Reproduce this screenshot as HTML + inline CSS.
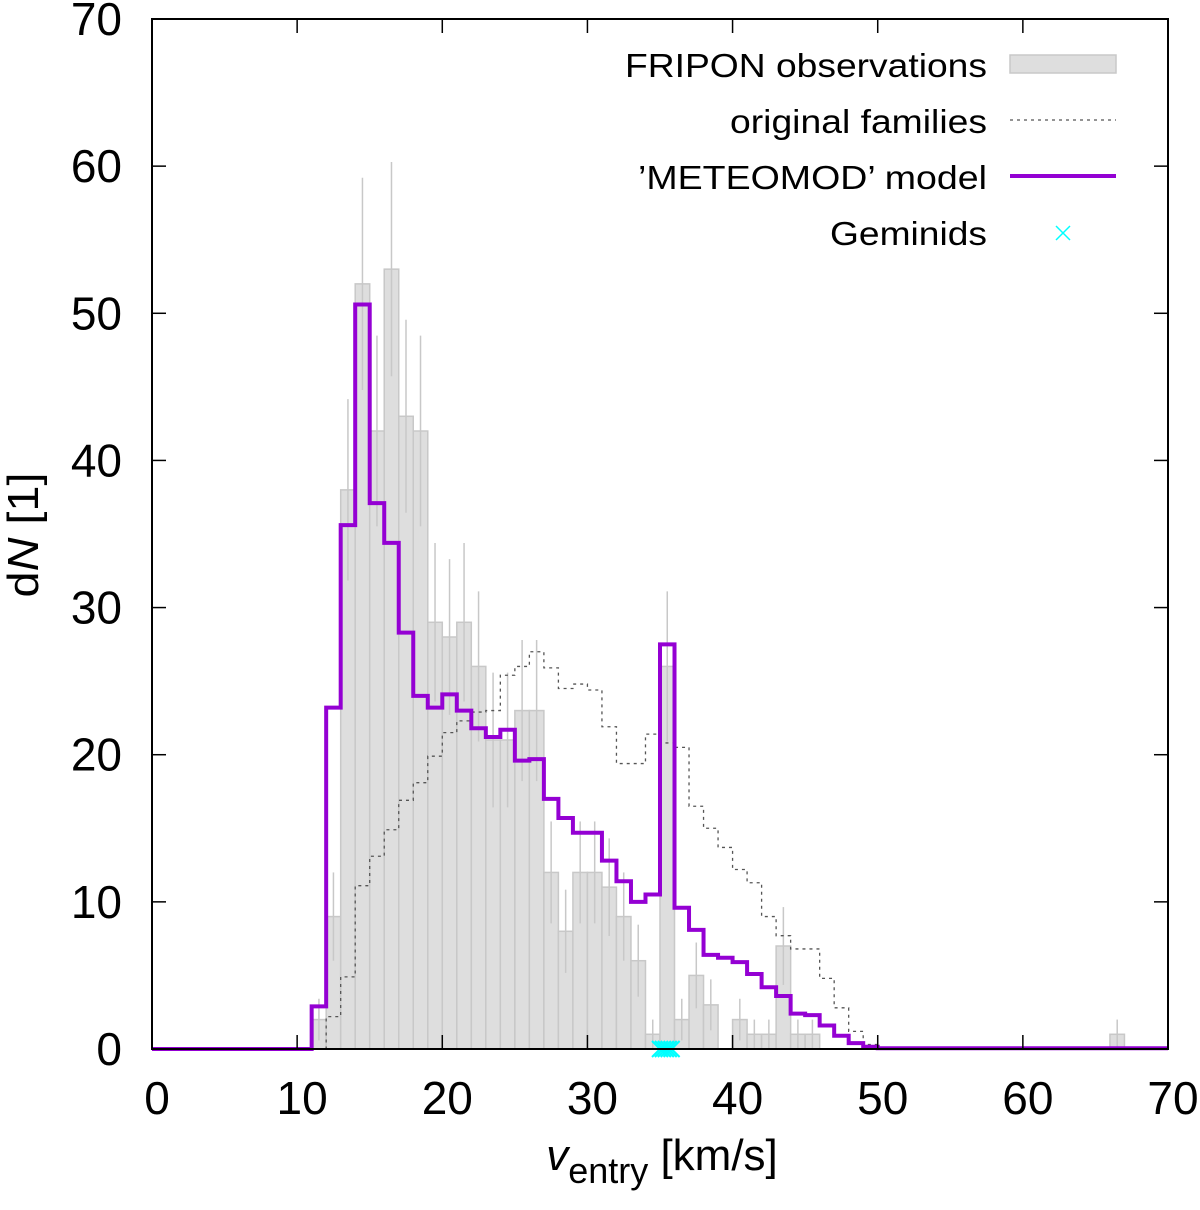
<!DOCTYPE html>
<html><head><meta charset="utf-8"><style>
html,body{margin:0;padding:0;background:#fff;}
svg text{font-family:"Liberation Sans",sans-serif;fill:#000;}
</style></head><body>
<svg id="chart" width="1200" height="1205" viewBox="0 0 1200 1205" xmlns="http://www.w3.org/2000/svg">
<g id="bars"></g>
<g id="errs"></g>
<path id="orig" fill="none" stroke="#555" stroke-width="1.3" stroke-dasharray="3,4"/>
<path id="model" fill="none" stroke="#9400d3" stroke-width="4"/>
<g id="gem"></g>
<rect x="152" y="19" width="1016" height="1030" fill="none" stroke="#000" stroke-width="2"/>
<g id="ticks"></g>
<text transform="translate(38,535) rotate(-90)" text-anchor="middle" font-size="44" textLength="125" lengthAdjust="spacingAndGlyphs">d<tspan font-style="italic">N</tspan> [1]</text>
<text x="662" y="1170" text-anchor="middle" font-size="44"><tspan font-style="italic">v</tspan><tspan font-size="36" dy="13">entry</tspan><tspan dy="-13"> [km/s]</tspan></text>
<g>
<text x="987" y="77" text-anchor="end" font-size="33" textLength="362" lengthAdjust="spacingAndGlyphs">FRIPON observations</text>
<rect x="1010" y="55" width="106" height="18" fill="#dedede" stroke="#c8c8c8" stroke-width="1.5"/>
<text x="987" y="133" text-anchor="end" font-size="33" textLength="257" lengthAdjust="spacingAndGlyphs">original families</text>
<line x1="1010" y1="120" x2="1116" y2="120" stroke="#555" stroke-width="1.3" stroke-dasharray="3,4"/>
<text x="987" y="189" text-anchor="end" font-size="33" textLength="349" lengthAdjust="spacingAndGlyphs">’METEOMOD’ model</text>
<line x1="1010" y1="176" x2="1116" y2="176" stroke="#9400d3" stroke-width="4"/>
<text x="987" y="245" text-anchor="end" font-size="33" textLength="157" lengthAdjust="spacingAndGlyphs">Geminids</text>
<path d="M1056,226 L1070,240 M1056,240 L1070,226" stroke="#00ffff" stroke-width="1.5"/>
</g>
</svg>
<script>
const binStarts = [11,12,13,14,15,16,17,18,19,20,21,22,23,24,25,26,27,28,29,30,31,32,33,34,35,36,37,38,39,40,41,42,43,44,45,66];
const obsCounts = [2,9,38,52,42,53,43,42,29,28,29,26,21,21,23,23,12,8,12,12,11,9,6,1,26,2,5,3,0,2,1,1,7,1,1,1];
const modelStarts = [0,11,12,13,14,15,16,17,18,19,20,21,22,23,24,25,26,27,28,29,30,31,32,33,34,35,36,37,38,39,40,41,42,43,44,45,46,47,48,49,50];
const modelValues = [0,2.9,23.2,35.6,50.6,37.1,34.4,28.3,24.0,23.2,24.1,23.0,21.8,21.2,21.7,19.6,19.7,17.0,15.7,14.7,14.7,12.8,11.4,10.0,10.5,27.5,9.6,8.1,6.4,6.2,5.9,5.1,4.2,3.6,2.4,2.3,1.6,0.9,0.4,0.15,0.05];
const origStarts = [11,12,13,14,15,16,17,18,19,20,21,22,23,24,25,26,27,28,29,30,31,32,33,34,35,36,37,38,39,40,41,42,43,44,45,46,47,48,49,50];
const origValues = [0,2.2,4.9,11.1,13.1,14.9,16.9,18.1,19.9,21.5,22.3,22.9,23.0,25.4,26.0,27.0,25.9,24.5,24.8,24.4,21.9,19.4,19.4,21.4,20.8,20.5,16.5,15.0,13.7,12.2,11.3,9.0,7.7,6.8,6.8,4.8,2.8,1.2,0.3,0];
const geminids = [35.0,35.2,35.4,35.6,35.8];
const xTicks = [0,10,20,30,40,50,60,70];
const yTicks = [0,10,20,30,40,50,60,70];

const NS = "http://www.w3.org/2000/svg";
const X = v => 152 + v * (1016 / 70);
const Y = v => 1049 - v * (1030 / 70);
function mk(tag, attrs, parent){const e=document.createElementNS(NS,tag);for(const k in attrs)e.setAttribute(k,attrs[k]);parent.appendChild(e);return e;}

const bars = document.getElementById('bars'), errs = document.getElementById('errs');
binStarts.forEach((b,i)=>{
  const v = obsCounts[i];
  if (v <= 0) return;
  const r = mk('rect',{x:X(b),y:Y(v),width:X(b+1)-X(b),height:Y(0)-Y(v),fill:'#dedede',stroke:'#c8c8c8','stroke-width':1.5},bars);
  
  
  const e = Math.sqrt(v), cx = X(b+0.5);
  const l = mk('line',{x1:cx,x2:cx,y1:Y(v+e),y2:Y(Math.max(0,v-e)),stroke:'#c8c8c8','stroke-width':1.5},errs);
  
  
});

function stepPath(starts, vals, end){
  let d = '';
  starts.forEach((s,i)=>{
    const x0 = X(s), x1 = X(i+1<starts.length ? starts[i+1] : end), y = Y(vals[i]);
    d += (i===0 ? 'M' : 'L') + x0 + ',' + y + ' L' + x1 + ',' + y + ' ';
  });
  return d;
}
document.getElementById('model').setAttribute('d', stepPath(modelStarts, modelValues, 70));
document.getElementById('orig').setAttribute('d', stepPath(origStarts, origValues, 51));

const gem = document.getElementById('gem');
geminids.forEach(g=>{
  const x = X(g), y = Y(0);
  const p = mk('path',{d:`M${x-8},${y-8} L${x+8},${y+8} M${x-8},${y+8} L${x+8},${y-8}`,stroke:'#00ffff','stroke-width':2},gem);
  
  
});

const ticks = document.getElementById('ticks');
xTicks.forEach(t=>{
  const x = X(t);
  mk('line',{x1:x,x2:x,y1:1049,y2:1035,stroke:'#000','stroke-width':1.5},ticks);
  mk('line',{x1:x,x2:x,y1:19,y2:33,stroke:'#000','stroke-width':1.5},ticks);
  const tx = mk('text',{x:x+5,y:1114,'text-anchor':'middle','font-size':46},ticks);
  tx.textContent = t;
  
  
});
yTicks.forEach(t=>{
  const y = Y(t);
  mk('line',{x1:152,x2:166,y1:y,y2:y,stroke:'#000','stroke-width':1.5},ticks);
  mk('line',{x1:1168,x2:1154,y1:y,y2:y,stroke:'#000','stroke-width':1.5},ticks);
  const tx = mk('text',{x:122,y:y+16,'text-anchor':'end','font-size':46},ticks);
  tx.textContent = t;
  
  
});
</script>
</body></html>
